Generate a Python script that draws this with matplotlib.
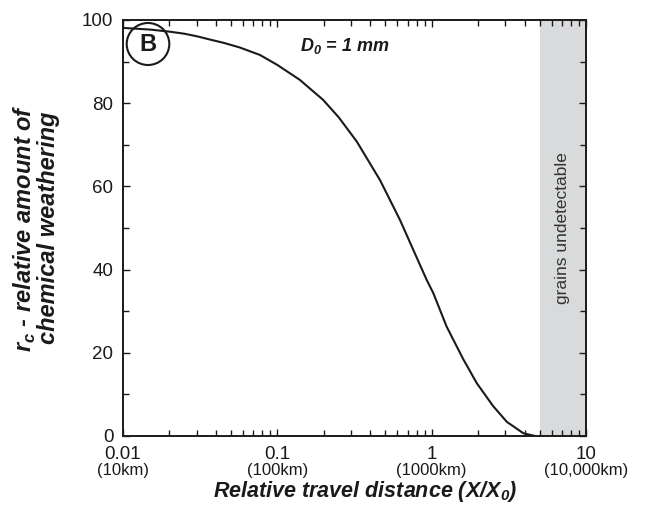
import numpy as np
import matplotlib
matplotlib.use("Agg")
import matplotlib.pyplot as plt
from matplotlib.patches import Ellipse
from matplotlib.ticker import LogLocator, FixedLocator, NullFormatter
import matplotlib.transforms as mtransforms

plt.rcParams['font.family'] = ['Liberation Sans', 'DejaVu Sans']
plt.rcParams['mathtext.fontset'] = 'custom'
plt.rcParams['mathtext.bfit'] = 'Liberation Sans:bold:italic'

# curve
rel_distance = [0.01, 0.015, 0.02, 0.025, 0.03, 0.0366, 0.045, 0.057, 0.0771,
                0.1, 0.14, 0.198, 0.25, 0.327, 0.463, 0.624, 0.761, 0.929,
                1.026, 1.25, 1.6, 1.96, 2.5, 3.07, 3.93, 4.68]
weathering = [98.1, 97.7, 97.2, 96.7, 96.1, 95.3, 94.5, 93.4, 91.6,
              89.2, 85.6, 80.8, 76.6, 70.8, 61.5, 51.9, 44.7, 37.5,
              34.3, 26.3, 18.5, 12.7, 7.2, 3.4, 0.65, 0.0]

xticks = [0.01, 0.1, 1, 10]
xtick_labels = ['0.01', '0.1', '1', '10']
km_labels = ['(10km)', '(100km)', '(1000km)', '(10,000km)']
yticks = [0, 20, 40, 60, 80, 100]
undetectable = (5, 10)

ink = '#1a1a1a'
W, H = 670, 509

fig = plt.figure(figsize=(6.7, 5.09), dpi=100)
ax = fig.add_axes([123 / W, 73 / H, 463 / W, 416 / H])

ax.axvspan(undetectable[0], undetectable[1], color='#d9dadc', lw=0, zorder=0)
ax.plot(rel_distance, weathering, color=ink, lw=1.5, zorder=2)

ax.set_xscale('log')
ax.set_xlim(0.01, 10)
ax.set_ylim(0, 100)

ax.xaxis.set_major_locator(FixedLocator(xticks))
ax.set_xticklabels(xtick_labels)
ax.xaxis.set_minor_locator(LogLocator(base=10, subs=np.arange(2, 10)))
ax.xaxis.set_minor_formatter(NullFormatter())
ax.set_yticks(yticks)
ax.yaxis.set_minor_locator(FixedLocator(range(10, 100, 20)))

ax.tick_params(which='both', direction='in', top=True, right=True,
               labelsize=13.5, width=1, colors=ink)
ax.tick_params(which='major', length=5)
ax.tick_params(which='minor', length=4)
ax.tick_params(axis='x', which='major', pad=7)
ax.tick_params(axis='y', which='major', pad=7)
for s in ax.spines.values():
    s.set_linewidth(1.4)
    s.set_color(ink)

trans = mtransforms.blended_transform_factory(ax.transData, ax.transAxes)
for xv, lab in zip(xticks, km_labels):
    ax.text(xv, -(470 - 436) / 416, lab, transform=trans, ha='center',
            va='center', fontsize=12, color=ink)

ax.set_xlabel(r'Relative travel distance (X/X$_\mathbfit{0}$)', fontsize=15.5,
              fontweight='bold', fontstyle='italic', color=ink)
ax.xaxis.set_label_coords((365 - 123) / 463, -(491 - 436) / 416)
ax.xaxis.label.set_va('center')

ax.set_ylabel(r'$\mathbfit{r}_\mathbfit{c}$ - relative amount of' + '\nchemical weathering',
              fontsize=17, fontweight='bold', fontstyle='italic',
              color=ink, linespacing=0.95)
ax.yaxis.set_label_coords((36 - 123) / 463, 0.5)
ax.yaxis.label.set_va('center')

ax.text(np.sqrt(undetectable[0] * undetectable[1]), 0.5, 'grains undetectable',
        rotation=90, fontsize=12.5, color='#333333', ha='center', va='center',
        transform=trans)

# panel letter
fig.patches.append(Ellipse((148 / W, 1 - 44 / H), 2 * 21.3 / W, 2 * 21 / H,
                           transform=fig.transFigure, fill=False, lw=1.5, ec=ink))
fig.text(148 / W, 1 - 44.5 / H, 'B', fontsize=17, fontweight='bold',
         ha='center', va='center', color=ink)

fig.text(345 / W, 1 - 46 / H, r'$\mathbfit{D}_\mathbfit{0}$ = 1 mm', fontsize=13,
         fontweight='bold', fontstyle='italic', ha='center', va='center',
         color=ink)

fig.savefig('out.png', dpi=100)
